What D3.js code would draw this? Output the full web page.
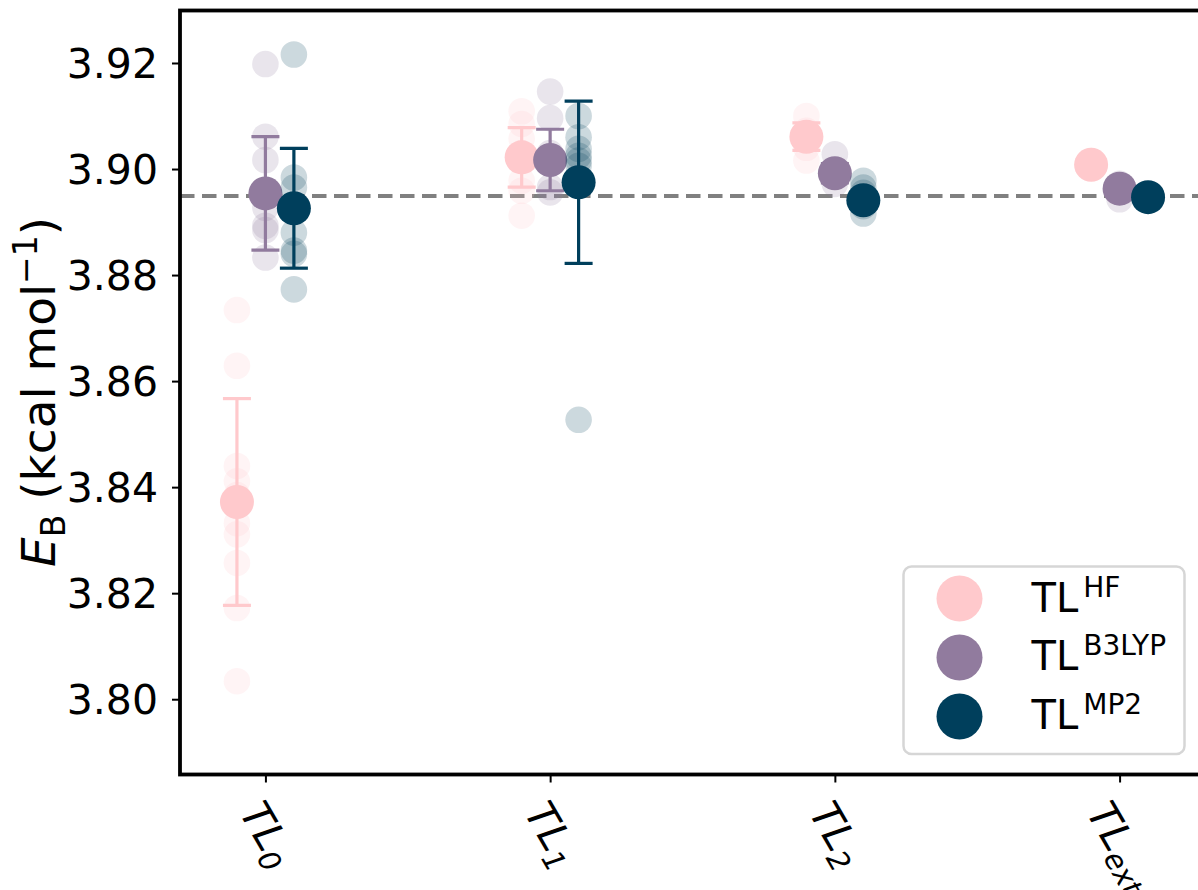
<!DOCTYPE html>
<html>
<head>
<meta charset="utf-8">
<script src="https://cdn.jsdelivr.net/npm/d3@7"></script>
<style>
  body { margin: 0; background: #fff; }
  svg { display: block; }
  text { font-family: "DejaVu Sans", sans-serif; fill: #000; }
</style>
</head>
<body>
<svg id="chart" width="1198" height="890"></svg>
<script>
// Truncation levels on the x axis
const levels = ["TL0", "TL1", "TL2", "TLext"];
const levelSubs = ["0", "1", "2", "ext"];

// Methods used for the truncation, one series each
const methods = ["HF", "B3LYP", "MP2"];
const methodColors = ["#ffc9cc", "#917b9e", "#003f5c"];
const methodOffsets = [-0.1, 0, 0.1];

// Individual runs (kcal/mol), one list per truncation level
const hfRuns = [
  [3.8734, 3.8629, 3.8440, 3.8411, 3.8385, 3.8332, 3.8311, 3.8257, 3.8172, 3.8034],
  [3.9109, 3.9085, 3.9057, 3.9030, 3.8978, 3.8959, 3.8912],
  [3.9100, 3.9072, 3.9061, 3.9040, 3.9016],
  [3.9015, 3.9008, 3.9002]
];
const b3lypRuns = [
  [3.9198, 3.9061, 3.9017, 3.8955, 3.8927, 3.8893, 3.8885, 3.8833],
  [3.9146, 3.9096, 3.9030, 3.9017, 3.8966, 3.8956],
  [3.9028, 3.8992, 3.8972],
  [3.8972, 3.8963, 3.8943]
];
const mp2Runs = [
  [3.9216, 3.8984, 3.8965, 3.8930, 3.8880, 3.8846, 3.8840, 3.8773],
  [3.9100, 3.9060, 3.9038, 3.9025, 3.9016, 3.9006, 3.8527],
  [3.8978, 3.8965, 3.8955, 3.8930, 3.8916],
  [3.8950, 3.8947, 3.8944]
];

// Averages and standard deviations per level
const hfMean = [3.8372, 3.9022, 3.9061, 3.9008];
const hfErr = [0.0195, 0.0056, 0.0026, 0.0010];
const b3lypMean = [3.8954, 3.9017, 3.8992, 3.8963];
const b3lypErr = [0.0107, 0.0058, 0.0018, 0.0012];
const mp2Mean = [3.8926, 3.8975, 3.8941, 3.8947];
const mp2Err = [0.0113, 0.0153, 0.0015, 0.0008];

// Reference binding energy
const referenceEB = 3.8949;

const yTicks = [3.80, 3.82, 3.84, 3.86, 3.88, 3.90, 3.92];

const runs = [hfRuns, b3lypRuns, mp2Runs];
const means = [hfMean, b3lypMean, mp2Mean];
const errs = [hfErr, b3lypErr, mp2Err];

const svg = d3.select("#chart");
const plotLeft = 180, plotRight = 1205, plotTop = 10.5, plotBottom = 774.5;

const x = d3.scaleLinear().domain([-0.3, 3.3]).range([plotLeft, plotRight]);
const y = d3.scaleLinear().domain([3.7858, 3.9299]).range([plotBottom, plotTop]);

svg.append("defs").append("clipPath").attr("id", "plot-clip")
  .append("rect").attr("x", plotLeft).attr("y", plotTop)
  .attr("width", plotRight - plotLeft).attr("height", plotBottom - plotTop);

// reference line
svg.append("line")
  .attr("x1", plotLeft).attr("x2", plotRight)
  .attr("y1", y(referenceEB)).attr("y2", y(referenceEB))
  .attr("stroke", "#808080").attr("stroke-width", 4)
  .attr("stroke-dasharray", "14.5 7.5");

const plot = svg.append("g").attr("clip-path", "url(#plot-clip)");

methods.forEach((m, mi) => {
  const col = methodColors[mi];
  const g = plot.append("g").attr("class", "series-" + m);
  // individual runs
  runs[mi].forEach((vals, li) => {
    g.selectAll(null).data(vals).enter().append("circle")
      .attr("cx", x(li + methodOffsets[mi]))
      .attr("cy", d => y(d))
      .attr("r", 13.3)
      .attr("fill", col)
      .attr("fill-opacity", 0.2);
  });
  // error bars
  const eb = g.selectAll(null).data(levels.map((l, li) => li)).enter().append("g");
  eb.append("line")
    .attr("x1", li => x(li + methodOffsets[mi])).attr("x2", li => x(li + methodOffsets[mi]))
    .attr("y1", li => y(means[mi][li] - errs[mi][li]))
    .attr("y2", li => y(means[mi][li] + errs[mi][li]))
    .attr("stroke", col).attr("stroke-width", 3.2);
  [-1, 1].forEach(s => {
    eb.append("line")
      .attr("x1", li => x(li + methodOffsets[mi]) - 14)
      .attr("x2", li => x(li + methodOffsets[mi]) + 14)
      .attr("y1", li => y(means[mi][li] + s * errs[mi][li]))
      .attr("y2", li => y(means[mi][li] + s * errs[mi][li]))
      .attr("stroke", col).attr("stroke-width", 3.2);
  });
  // averages
  g.selectAll(null).data(means[mi]).enter().append("circle")
    .attr("cx", (d, li) => x(li + methodOffsets[mi]))
    .attr("cy", d => y(d))
    .attr("r", 17)
    .attr("fill", col);
});

// axes
const yAxis = svg.append("g").attr("transform", `translate(${plotLeft},0)`)
  .call(d3.axisLeft(y).tickValues(yTicks).tickFormat(d3.format(".2f")).tickSize(8).tickPadding(14));
yAxis.select(".domain").remove();
yAxis.selectAll(".tick line").attr("stroke-width", 2);
yAxis.selectAll(".tick text").attr("font-size", 41).attr("font-family", "DejaVu Sans").attr("dy", "0.36em");

const xAxis = svg.append("g").attr("transform", `translate(0,${plotBottom})`)
  .call(d3.axisBottom(x).tickValues(d3.range(levels.length)).tickFormat("").tickSize(8));
xAxis.select(".domain").remove();
xAxis.selectAll(".tick line").attr("stroke-width", 2);

// rotated level labels
levels.forEach((l, li) => {
  const outer = svg.append("g");
  const t = outer.append("text")
    .attr("transform", "rotate(60)")
    .attr("text-anchor", "middle")
    .attr("font-size", 41)
    .attr("font-style", "italic");
  t.append("tspan").text("TL");
  t.append("tspan").attr("font-size", 29).attr("dy", 8).text(levelSubs[li]);
  const bb = outer.node().getBBox();
  outer.attr("transform", `translate(${x(li) - (bb.x + bb.width / 2)},${plotBottom + 19 - bb.y})`);
});

// y label
const yl = svg.append("text")
  .attr("transform", `translate(55,392) rotate(-90)`)
  .attr("text-anchor", "middle")
  .attr("font-size", 47);
yl.append("tspan").attr("font-style", "italic").text("E");
yl.append("tspan").attr("font-size", 33).attr("dy", 10).text("B");
yl.append("tspan").attr("dy", -10).text(" (kcal mol");
yl.append("tspan").attr("font-size", 33).attr("dy", -18).text("\u22121");
yl.append("tspan").attr("dy", 18).text(")");

// spines
svg.append("rect")
  .attr("x", plotLeft).attr("y", plotTop)
  .attr("width", plotRight - plotLeft).attr("height", plotBottom - plotTop)
  .attr("fill", "none").attr("stroke", "#000").attr("stroke-width", 3.8);

// legend
const lg = svg.append("g");
lg.append("rect")
  .attr("x", 903.5).attr("y", 566.5).attr("width", 281).attr("height", 187.5)
  .attr("rx", 8).attr("fill", "#fff").attr("fill-opacity", 0.8)
  .attr("stroke", "#d6d6d6").attr("stroke-width", 2.5);
methods.forEach((m, mi) => {
  lg.append("circle").attr("cx", 959.5).attr("cy", 598.5 + 59 * mi).attr("r", 23)
    .attr("fill", methodColors[mi]);
  const t = lg.append("text").attr("x", 1031.5).attr("y", 611.5 + 58.5 * mi).attr("font-size", 40);
  t.append("tspan").text("TL");
  t.append("tspan").attr("font-size", 28).attr("dx", 5).attr("dy", -15).text(m);
});
</script>
</body>
</html>
